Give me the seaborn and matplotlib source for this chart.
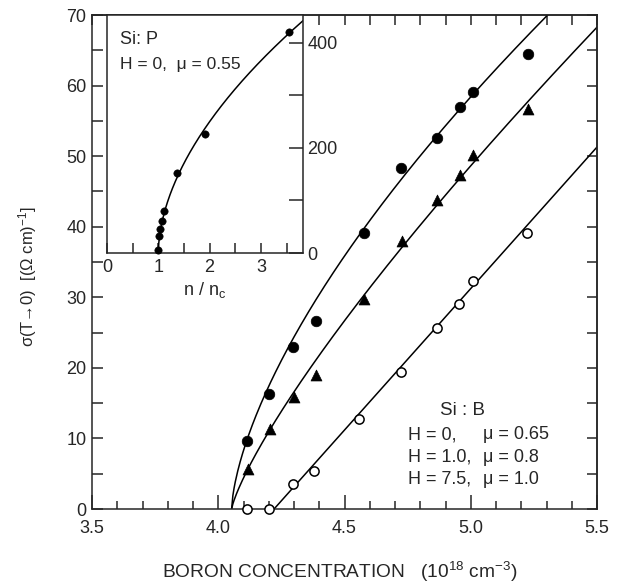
import numpy as np
import pandas as pd
import matplotlib
matplotlib.use("Agg")
import matplotlib.pyplot as plt
from matplotlib.ticker import MultipleLocator, FixedLocator, FixedFormatter, NullFormatter
import seaborn as sns

# ---- Si:B, zero-temperature conductivity vs. boron concentration ----
conc_h0 = [4.115, 4.202, 4.297, 4.387, 4.578, 4.724, 4.868, 4.958, 5.010, 5.225]
sigma_h0 = [9.7, 16.3, 22.9, 26.7, 39.1, 48.3, 52.6, 56.9, 59.1, 64.5]

conc_h10 = [4.117, 4.205, 4.301, 4.387, 4.578, 4.726, 4.868, 4.957, 5.010, 5.225]
sigma_h10 = [5.6, 11.3, 15.8, 19.0, 29.7, 38.0, 43.8, 47.3, 50.1, 56.7]

conc_h75 = [4.114, 4.201, 4.297, 4.380, 4.559, 4.722, 4.865, 4.955, 5.010, 5.221]
sigma_h75 = [0.0, 0.0, 3.5, 5.4, 12.7, 19.4, 25.6, 29.0, 32.3, 39.1]

# critical fits  sigma = A (n - nc)^mu  for H = 0, 1.0, 7.5
fit_nc = [4.053, 4.053, 4.221]
fit_amp = [60.5, 50.8, 40.1]
fit_mu = [0.65, 0.8, 1.0]

# ---- Si:P inset, sigma vs n/nc ----
ratio_p = [1.00, 1.02, 1.04, 1.07, 1.11, 1.36, 1.91, 3.54]
sigma_p = [5, 32, 45, 60, 80, 152, 226, 420]
fit_p_nc, fit_p_amp, fit_p_mu = 1.0, 250.0, 0.55

# ---- style ----
sns.set_style("ticks")
plt.rcParams["font.family"] = ["Liberation Sans", "DejaVu Sans"]
plt.rcParams["mathtext.fontset"] = "custom"
plt.rcParams["mathtext.rm"] = "Liberation Sans"
plt.rcParams["mathtext.it"] = "Liberation Sans:italic"
plt.rcParams["axes.linewidth"] = 1.1

W, H = 619, 586
fig = plt.figure(figsize=(W / 100, H / 100), dpi=100)

def frame(l, t, r, b):
    return [l / W, 1 - b / H, (r - l) / W, (b - t) / H]

ax = fig.add_axes(frame(92, 15, 597, 509))

# fit curves
for nc, amp, mu in zip(fit_nc, fit_amp, fit_mu):
    xs = np.linspace(nc, 5.5, 300)
    ys = amp * (xs - nc) ** mu
    sns.lineplot(x=xs, y=ys, ax=ax, color="black", lw=1.1, estimator=None, sort=False)

# data points
sns.scatterplot(x=conc_h0, y=sigma_h0, ax=ax, marker="o", s=58, color="black",
                edgecolor="black", linewidth=0.5, zorder=5, clip_on=False)
sns.scatterplot(x=conc_h10, y=sigma_h10, ax=ax, marker="^", s=62, color="black",
                edgecolor="black", linewidth=0.5, zorder=5, clip_on=False)
sns.scatterplot(x=conc_h75, y=sigma_h75, ax=ax, marker="o", s=44, facecolor="white",
                edgecolor="black", linewidth=1.1, zorder=5, clip_on=False)

ax.set_xlim(3.5, 5.5)
ax.set_ylim(0, 70)
ax.xaxis.set_major_locator(FixedLocator([3.5, 4.0, 4.5, 5.0, 5.5]))
ax.xaxis.set_major_formatter(FixedFormatter(["3.5", "4.0", "4.5", "5.0", "5.5"]))
ax.xaxis.set_minor_locator(MultipleLocator(0.1))
ax.yaxis.set_major_locator(MultipleLocator(10))
ax.yaxis.set_minor_locator(MultipleLocator(5))
ax.tick_params(axis="x", which="major", direction="in", length=10, width=1.1, labelsize=13, pad=8)
ax.tick_params(axis="x", which="minor", direction="in", length=6, width=1.1)
ax.tick_params(axis="y", which="both", direction="in", length=8, width=1.1, labelsize=13, pad=4)

# short ticks along top and right
top = ax.secondary_xaxis("top")
top.xaxis.set_major_locator(MultipleLocator(0.1))
top.xaxis.set_major_formatter(NullFormatter())
top.tick_params(direction="in", length=7, width=1.1)
right = ax.secondary_yaxis("right")
right.yaxis.set_major_locator(MultipleLocator(5))
right.yaxis.set_major_formatter(NullFormatter())
right.tick_params(direction="in", length=7, width=1.1)

ax.set_xlabel("BORON CONCENTRATION   (10$^{18}$ cm$^{-3}$)", fontsize=13.8)
ax.xaxis.set_label_coords(0.49, -0.128)
ax.xaxis.label.set_va("center")
ax.set_ylabel("σ(T→0)  [(Ω cm)$^{-1}$]", fontsize=12)
ax.yaxis.set_label_coords(-0.128, 0.47)
ax.yaxis.label.set_va("center")

# Si:B legend text
ax.text(4.969, 14.0, "Si : B", fontsize=13.5, ha="center", va="center")
rows = [("H = 0,", "μ = 0.65", 10.5), ("H = 1.0,", "μ = 0.8", 7.3), ("H = 7.5,", "μ = 1.0", 4.2)]
for hs, ms, yy in rows:
    ax.text(4.751, yy, hs, fontsize=13, ha="left", va="center")
    ax.text(5.05, yy, ms, fontsize=13, ha="left", va="center")

# ---- inset ----
ins = fig.add_axes(frame(107, 15, 303, 253))
ins.set_facecolor("white")
xp = np.linspace(fit_p_nc, 3.85, 300)
sns.lineplot(x=xp, y=fit_p_amp * (xp - fit_p_nc) ** fit_p_mu, ax=ins, color="black",
             lw=1.1, estimator=None, sort=False)
sns.scatterplot(x=ratio_p, y=sigma_p, ax=ins, marker="o", s=28, color="black",
                edgecolor="black", linewidth=0.4, zorder=5, clip_on=False)
ins.set_xlim(0, 3.82)
ins.set_ylim(0, 453)
ins.xaxis.set_major_locator(FixedLocator([0, 0.5, 1, 1.5, 2, 2.5, 3, 3.5]))
ins.xaxis.set_major_formatter(FixedFormatter(["0", "", "1", "", "2", "", "3", ""]))
ins.yaxis.tick_right()
ins.yaxis.set_major_locator(FixedLocator([0, 100, 200, 300, 400]))
ins.yaxis.set_major_formatter(FixedFormatter(["0", "", "200", "", "400"]))
ins.tick_params(axis="x", direction="in", length=7, width=1.1, labelsize=13, pad=4)
ins.tick_params(axis="y", direction="in", length=10, width=1.1, labelsize=13, pad=3,
                left=False, right=True)
ins.set_xlabel("n / n$_{\\rm c}$", fontsize=13, labelpad=3)
ins.set_ylabel("")
ins.text(0.066, 0.895, "Si: P", transform=ins.transAxes, fontsize=13, ha="left", va="center")
ins.text(0.066, 0.79, "H = 0,  μ = 0.55", transform=ins.transAxes, fontsize=12.5,
         ha="left", va="center")

fig.savefig("out.png", dpi=100)
